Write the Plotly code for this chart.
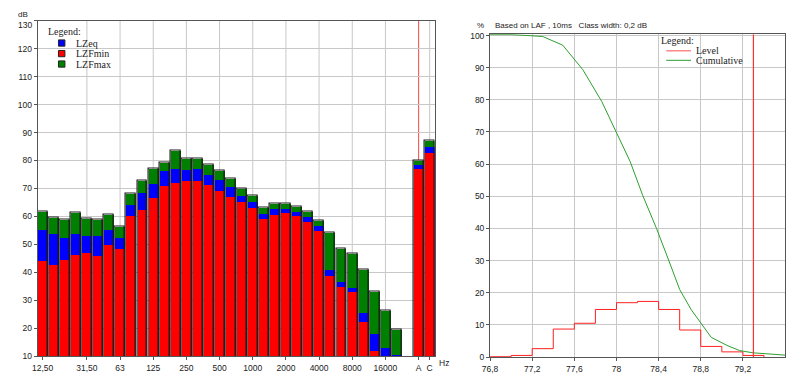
import plotly.graph_objects as go

# ---------------- data: left chart (1/3 octave spectrum) ----------------
bands = ["12,50", "16", "20", "25", "31,50", "40", "50", "63", "80", "100", "125", "160",
         "200", "250", "315", "400", "500", "630", "800", "1000", "1250", "1600", "2000",
         "2500", "3150", "4000", "5000", "6300", "8000", "10000", "12500", "16000", "20000",
         "A", "C"]
lzfmax = [61.7, 59.6, 58.9, 61.4, 59.3, 59.0, 60.6, 56.4, 68.3, 72.9, 77.1, 79.4, 83.4, 80.6,
          80.7, 78.5, 76.5, 73.6, 69.8, 67.3, 63.2, 64.7, 64.5, 63.5, 61.8, 58.4, 54.3, 48.5,
          46.7, 40.9, 33.0, 26.3, 19.4, 79.8, 87.0]
lzeq = [55.2, 53.8, 52.5, 53.8, 53.2, 53.1, 55.2, 52.5, 64.3, 68.4, 71.6, 76.4, 77.1, 76.8,
        77.1, 75.1, 73.2, 70.7, 67.3, 65.4, 61.0, 62.8, 62.9, 61.9, 60.0, 56.8, 41.0, 36.9,
        34.7, 25.7, 18.1, 13.2, 10.5, 78.5, 84.8]
lzfmin = [44.4, 42.9, 44.6, 46.5, 47.2, 46.0, 49.9, 48.5, 60.4, 62.6, 66.7, 71.0, 72.1, 72.8,
          72.8, 71.5, 69.3, 67.1, 65.2, 63.3, 59.3, 60.7, 61.4, 60.4, 58.3, 54.9, 38.9, 34.9,
          33.0, 22.3, 12.0, 9.0, 8.0, 77.1, 82.7]
left_ticklabels = ["12,50", "31,50", "63", "125", "250", "500", "1000", "2000", "4000",
                   "8000", "16000", "A", "C"]
left_yticks = [10, 20, 30, 40, 50, 60, 70, 80, 90, 100, 110, 120, 130]
left_yticktext = ["10", "20", "30", "40", "50", "60", "70", "80", "90", "100", "110", "120", ""]
left_top_label = "130"

# ---------------- data: right chart (level distribution) ----------------
level_bins = [76.8, 77.0, 77.2, 77.4, 77.6, 77.8, 78.0, 78.2, 78.4, 78.6, 78.8, 79.0, 79.2, 79.4]
level_pct = [0.1, 0.5, 2.6, 8.7, 10.5, 14.8, 16.9, 17.3, 14.8, 8.4, 3.3, 1.6, 0.5, 0.0]
cum_x = [76.8, 77.0, 77.16, 77.3, 77.49, 77.68, 77.86, 77.99, 78.13, 78.25, 78.38, 78.52,
         78.6, 78.71, 78.8, 78.9, 79.05, 79.17, 79.3, 79.45, 79.6]
cum_y = [100.3, 100.3, 100.0, 99.7, 97.0, 89.4, 79.5, 70.5, 60.8, 50.2, 40.0, 28.0, 21.0,
         14.7, 10.6, 6.1, 3.6, 2.0, 1.3, 0.9, 0.6]
right_xticks = [76.8, 77.2, 77.6, 78.0, 78.4, 78.8, 79.2]
right_xticktext = ["76,8", "77,2", "77,6", "78", "78,4", "78,8", "79,2"]
right_yticks = [0, 10, 20, 30, 40, 50, 60, 70, 80, 90, 100]
marker_level = 79.3

# ---------------- layout helpers ----------------
W, H = 788, 377


def px(x):
    return x / W


def py(y):
    return 1 - y / H


# band positions: 33 bands, one empty slot, then A and C
pos = list(range(33)) + [34, 35]
tick_pos = [pos[bands.index(t)] for t in left_ticklabels]

SANS = "Liberation Sans"
SERIF = "Liberation Serif"
TXT = "#222222"
GRID = "#c8c8c8"
AX = "#555555"

fig = go.Figure()

bw = 0.9
fig.add_trace(go.Bar(x=pos, y=lzfmax, width=bw, marker=dict(color="#008000", line=dict(width=0)),
                     name="LZFmax", showlegend=False, xaxis="x", yaxis="y"))
fig.add_trace(go.Bar(x=pos, y=lzeq, width=bw, marker=dict(color="#0000ff", line=dict(width=0)),
                     name="LZeq", showlegend=False, xaxis="x", yaxis="y"))
fig.add_trace(go.Bar(x=pos, y=lzfmin, width=bw, marker=dict(color="#ff0000", line=dict(width=0)),
                     name="LZFmin", showlegend=False, xaxis="x", yaxis="y"))
# outline around each stack
fig.add_trace(go.Bar(x=pos, y=lzfmax, width=bw,
                     marker=dict(color="rgba(0,0,0,0)", line=dict(color="#1a1a1a", width=1.2)),
                     showlegend=False, hoverinfo="skip", xaxis="x", yaxis="y"))

# right chart
fig.add_trace(go.Scatter(x=level_bins, y=level_pct, mode="lines",
                         line=dict(color="#ff2020", width=1, shape="hv"),
                         name="Level", showlegend=False, xaxis="x2", yaxis="y2"))
fig.add_trace(go.Scatter(x=cum_x, y=cum_y, mode="lines", line=dict(color="#2e9e2e", width=1),
                         name="Cumulative", showlegend=False, xaxis="x2", yaxis="y2"))

shapes = []
# vertical grid lines on left chart (not at first tick)
for tp in tick_pos[1:]:
    shapes.append(dict(type="line", xref="x", yref="y", x0=tp, x1=tp, y0=10, y1=130,
                       line=dict(color=GRID, width=1), layer="below"))
# red marker line at A
a_pos = pos[bands.index("A")]
shapes.append(dict(type="line", xref="x", yref="y", x0=a_pos, x1=a_pos,
                   y0=10, y1=130, line=dict(color="#ff5050", width=1), layer="below"))
# red marker line on right chart
shapes.append(dict(type="line", xref="x2", yref="y2", x0=marker_level, x1=marker_level,
                   y0=-0.1, y1=100.4, line=dict(color="#ff3030", width=1.2), layer="above"))

annotations = []
# left legend
annotations.append(dict(text="Legend:", x=px(38), y=py(28), xref="paper", yref="paper",
                        xanchor="left", yanchor="middle", showarrow=False,
                        font=dict(family=SERIF, size=10, color=TXT)))
leg_items = [("LZeq", "#0000ff", 40), ("LZFmin", "#ff0000", 50.8), ("LZFmax", "#008000", 61.5)]
for name, col, yy in leg_items:
    shapes.append(dict(type="rect", xref="paper", yref="paper", x0=px(51), x1=px(57.5),
                       y0=py(yy + 3.2), y1=py(yy - 3.2), fillcolor=col, line=dict(color="#222", width=1)))
    annotations.append(dict(text=name, x=px(67), y=py(yy), xref="paper", yref="paper",
                            xanchor="left", yanchor="middle", showarrow=False,
                            font=dict(family=SERIF, size=10, color=TXT)))
# right legend
annotations.append(dict(text="Legend:", x=px(658), y=py(37.5), xref="paper", yref="paper",
                        xanchor="left", yanchor="middle", showarrow=False,
                        font=dict(family=SERIF, size=10, color=TXT)))
for name, col, yy in [("Level", "#ff5050", 48), ("Cumulative", "#2e9e2e", 57.7)]:
    shapes.append(dict(type="line", xref="paper", yref="paper", x0=px(665), x1=px(690),
                       y0=py(yy), y1=py(yy), line=dict(color=col, width=1)))
    annotations.append(dict(text=name, x=px(693), y=py(yy), xref="paper", yref="paper",
                            xanchor="left", yanchor="middle", showarrow=False,
                            font=dict(family=SERIF, size=10, color=TXT)))
# units / header texts
annotations.append(dict(text="dB", x=px(15), y=py(11), xref="paper", yref="paper",
                        xanchor="center", yanchor="middle", showarrow=False,
                        font=dict(family=SANS, size=8, color=TXT)))
annotations.append(dict(text=left_top_label, x=px(26.5), y=py(22), xref="paper", yref="paper",
                        xanchor="right", yanchor="middle", showarrow=False,
                        font=dict(family=SANS, size=8.5, color=TXT)))
annotations.append(dict(text="Hz", x=px(440), y=py(368), xref="paper", yref="paper",
                        xanchor="center", yanchor="middle", showarrow=False,
                        font=dict(family=SANS, size=8.5, color=TXT)))
annotations.append(dict(text="%", x=px(477), y=py(22), xref="paper", yref="paper",
                        xanchor="center", yanchor="middle", showarrow=False,
                        font=dict(family=SANS, size=8, color=TXT)))
annotations.append(dict(text="Based on LAF , 10ms\u00a0\u00a0\u00a0Class width: 0,2 dB",
                        x=px(490), y=py(22.5), xref="paper", yref="paper",
                        xanchor="left", yanchor="middle", showarrow=False,
                        font=dict(family=SANS, size=8, color=TXT)))

tickfont = dict(family=SANS, size=8.5, color=TXT)
fig.update_layout(
    width=W, height=H,
    margin=dict(l=0, r=0, t=0, b=0),
    paper_bgcolor="white", plot_bgcolor="white",
    barmode="overlay", bargap=0,
    showlegend=False,
    xaxis=dict(domain=[px(30), px(431)], range=[-0.45, 35.45], tickvals=tick_pos,
               ticktext=left_ticklabels, showgrid=False, zeroline=False, ticks="outside",
               ticklen=3, tickcolor=AX, showline=True, linecolor=AX, mirror=True,
               tickfont=tickfont, anchor="y"),
    yaxis=dict(domain=[py(361), py(17)], range=[10, 130], tickvals=left_yticks,
               ticktext=left_yticktext,
               showgrid=True, gridcolor=GRID, zeroline=False, ticks="outside", ticklen=3,
               tickcolor=AX, showline=True, linecolor=AX, mirror=True, tickfont=tickfont,
               anchor="x"),
    xaxis2=dict(domain=[px(487), px(785)], range=[76.8, 79.6], tickvals=right_xticks,
                ticktext=right_xticktext, showgrid=True, gridcolor=GRID, zeroline=False,
                ticks="outside", ticklen=3, tickcolor=AX, showline=True, linecolor=AX,
                mirror=True, tickfont=tickfont, anchor="y2"),
    yaxis2=dict(domain=[py(362), py(31)], range=[-0.1, 100.4], tickvals=right_yticks,
                showgrid=True, gridcolor=GRID, zeroline=False, ticks="outside", ticklen=3,
                tickcolor=AX, showline=True, linecolor=AX, mirror=True, tickfont=tickfont,
                anchor="x2"),
    shapes=shapes,
    annotations=annotations,
)

fig.write_html("out.html")
